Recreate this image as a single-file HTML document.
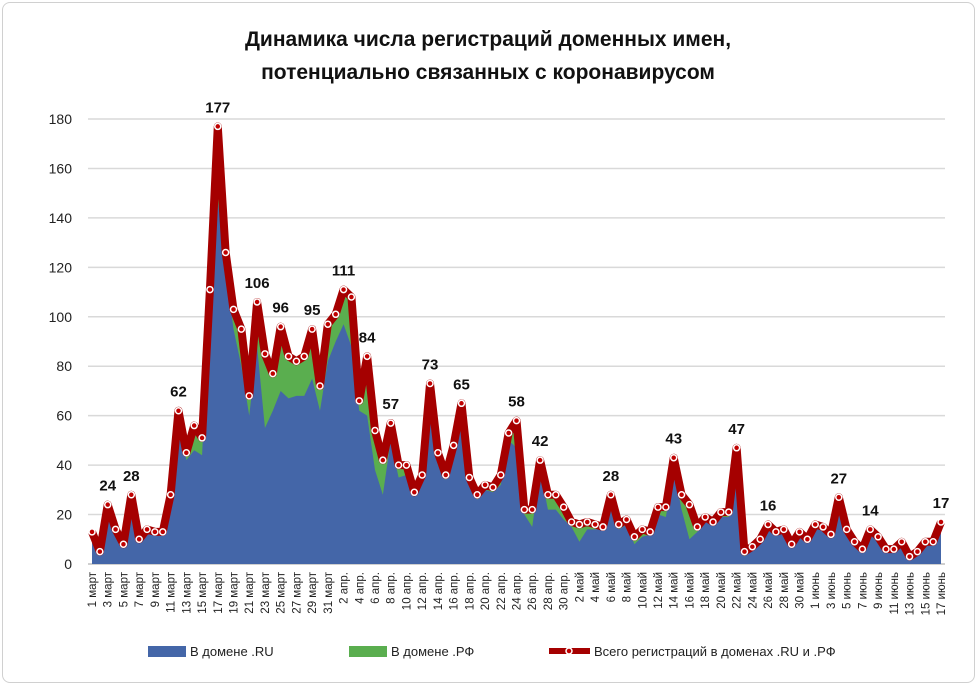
<!DOCTYPE html>
<html><head><meta charset="utf-8">
<style>
body{margin:0;background:#fff;font-family:"Liberation Sans",sans-serif;}
#frame{position:absolute;left:2px;top:2px;width:971px;height:679px;border:1px solid #d0d0d0;border-radius:8px;background:#fff;}
</style></head><body>
<div id="frame"></div>
<svg id="chart" width="977" height="685" style="position:absolute;left:0;top:0"></svg>
<script>
const totals=[13,5,24,14,8,28,10,14,13,13,28,62,45,56,51,111,177,126,103,95,68,106,85,77,96,84,82,84,95,72,97,
101,111,108,66,84,54,42,57,40,40,29,36,73,45,36,48,65,35,28,32,31,36,53,58,22,22,42,28,28,23,
17,16,17,16,15,28,16,18,11,14,13,23,23,43,28,24,15,19,17,21,21,47,5,7,10,16,13,14,8,13,10,
16,15,12,27,14,9,6,14,11,6,6,9,3,5,9,9,17];
const ruVals=[12,5,23,13,8,27,10,13,12,12,27,60,42,46,44,108,147,120,95,80,60,88,55,62,70,67,68,68,75,62,82,
90,97,88,62,60,38,28,50,35,36,28,34,60,40,34,42,58,32,26,30,29,32,50,47,20,15,38,22,22,18,
15,9,14,14,14,25,14,16,8,11,12,20,19,38,22,10,13,17,16,19,19,40,3,6,9,14,12,13,7,12,9,
15,14,11,26,13,8,5,13,10,5,5,8,2,4,8,8,16];
const labelIdx=[2,5,11,16,21,24,28,32,35,38,43,47,54,57,66,74,82,86,95,99,108];
const months=["март","апр.","май","июнь"];
const monthLen=[31,30,31,17];
const yTicks=[0,20,40,60,80,100,120,140,160,180];

const NS="http://www.w3.org/2000/svg";
const svg=document.getElementById('chart');
function el(t,a,p){const e=document.createElementNS(NS,t);for(const k in a)e.setAttribute(k,a[k]);(p||svg).appendChild(e);return e;}
const x0=92,x1=941,yBase=564,yTop=119;
const n=totals.length;
const X=i=>x0+(x1-x0)*i/(n-1);
const Y=v=>yBase-(yBase-yTop)*v/180;

const t1=el('text',{x:488,y:46,'text-anchor':'middle','font-size':21,'font-weight':'bold',fill:'#111'});
t1.textContent='Динамика числа регистраций доменных имен,';

const t2=el('text',{x:488,y:79,'text-anchor':'middle','font-size':21,'font-weight':'bold',fill:'#111'});
t2.textContent='потенциально связанных с коронавирусом';


yTicks.forEach(v=>{
  const g=el('line',{x1:88,x2:945,y1:Y(v),y2:Y(v),stroke:v===0?'#bfbfbf':'#d9d9d9','stroke-width':1.5});
  
  const t=el('text',{x:72,y:Y(v)+5,'text-anchor':'end','font-size':14,fill:'#222'});
  t.textContent=v;
  
});

let ruPts=`${X(0)},${yBase} `+ruVals.map((v,i)=>`${X(i)},${Y(v)}`).join(' ')+` ${X(n-1)},${yBase}`;
let totPts=`${X(0)},${yBase} `+totals.map((v,i)=>`${X(i)},${Y(v)}`).join(' ')+` ${X(n-1)},${yBase}`;
const ga=el('polygon',{points:totPts,fill:'#5aae4f'});

const ba=el('polygon',{points:ruPts,fill:'#4466a8'});


const tl=el('polyline',{points:totals.map((v,i)=>`${X(i)},${Y(v)}`).join(' '),fill:'none',stroke:'#a50000','stroke-width':8,'stroke-linejoin':'round'});

totals.forEach((v,i)=>{
  const c=el('circle',{cx:X(i),cy:Y(v),r:3,fill:'#c00000',stroke:'#fff','stroke-width':1.5});
  
});
labelIdx.forEach(i=>{
  const t=el('text',{x:X(i),y:Y(totals[i])-14,'text-anchor':'middle','font-size':15,'font-weight':'bold',fill:'#111'});
  t.textContent=totals[i];
  
});

let idx=0;
months.forEach((m,mi)=>{
  for(let d=1;d<=monthLen[mi];d++){
    if(idx%2===0){
      const t=el('text',{x:0,y:0,'text-anchor':'end','font-size':11.5,fill:'#222',transform:`translate(${X(idx)+4},572) rotate(-90)`});
      t.textContent=d+' '+m;
      
    }
    idx++;
  }
});

const lg=el('g',{});
const r1=el('rect',{x:148,y:646,width:38,height:11,fill:'#4466a8'},lg);

const l1=el('text',{x:190,y:656,'font-size':13,fill:'#222'},lg);l1.textContent='В домене .RU';

const r2=el('rect',{x:349,y:646,width:38,height:11,fill:'#5aae4f'},lg);

const l2=el('text',{x:391,y:656,'font-size':13,fill:'#222'},lg);l2.textContent='В домене .РФ';

const r3=el('line',{x1:549,x2:590,y1:651,y2:651,stroke:'#a50000','stroke-width':6},lg);

const c3=el('circle',{cx:569,cy:651,r:3,fill:'#c00000',stroke:'#fff','stroke-width':1.5},lg);

const l3=el('text',{x:594,y:656,'font-size':13,fill:'#222'},lg);l3.textContent='Всего регистраций в доменах .RU и .РФ';

</script>
</body></html>
